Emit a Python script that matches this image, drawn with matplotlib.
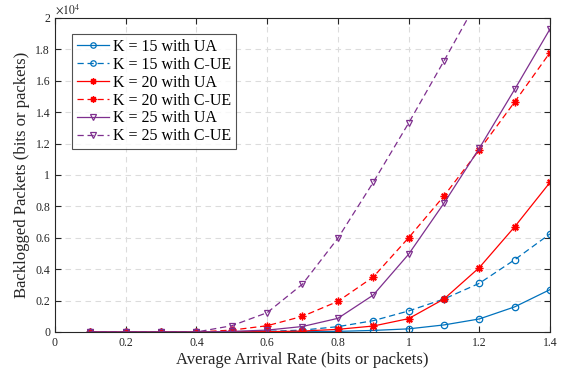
import matplotlib
matplotlib.use("Agg")
import matplotlib.pyplot as plt
import numpy as np
from matplotlib.ticker import FuncFormatter

plt.rcParams['font.family'] = ['Liberation Serif', 'DejaVu Serif']
plt.rcParams['mathtext.fontset'] = 'stix'

rate = [0.1, 0.2, 0.3, 0.4, 0.5, 0.6, 0.7, 0.8, 0.9, 1.0, 1.1, 1.2, 1.3, 1.4]
k15_ua  = [0, 0, 0, 0, 0, 0.001, 0.002, 0.004, 0.01, 0.02, 0.045, 0.083, 0.16, 0.27]
k15_cue = [0, 0, 0, 0, 0.001, 0.004, 0.012, 0.034, 0.072, 0.134, 0.21, 0.31, 0.46, 0.625]
k20_ua  = [0, 0, 0, 0, 0.001, 0.002, 0.006, 0.017, 0.038, 0.085, 0.21, 0.41, 0.67, 0.953]
k20_cue = [0, 0, 0, 0, 0.012, 0.04, 0.10, 0.195, 0.35, 0.60, 0.866, 1.16, 1.465, 1.78]
k25_ua  = [0, 0, 0, 0, 0.004, 0.012, 0.035, 0.087, 0.235, 0.495, 0.82, 1.17, 1.545, 1.93]
k25_cue = [0, 0, 0, 0, 0.04, 0.123, 0.305, 0.597, 0.953, 1.33, 1.726, 2.13, 2.6, 3.1]
labels = ["K = 15 with UA", "K = 15 with C-UE", "K = 20 with UA",
          "K = 20 with C-UE", "K = 25 with UA", "K = 25 with C-UE"]

scale = 1e4
blue = '#0072BD'
red = '#FF0000'
purple = '#7E2F8E'
asterisk = (8, 2, 0)

fig = plt.figure(figsize=(5.67, 3.76), dpi=100)
ax = fig.add_axes([55/567, 44/376, 495/567, 314/376])

series = [(k15_ua, blue, '-', 'o', 'none', 4.6),
          (k15_cue, blue, '--', 'o', 'none', 4.6),
          (k20_ua, red, '-', asterisk, red, 5.5),
          (k20_cue, red, '--', asterisk, red, 5.5),
          (k25_ua, purple, '-', 'v', 'none', 4.8),
          (k25_cue, purple, '--', 'v', 'none', 4.8)]
for (vals, c, ls, m, mfc, ms), lab in zip(series, labels):
    ax.plot(rate, np.array(vals) * scale, color=c, linestyle=ls, marker=m,
            markerfacecolor=mfc, markeredgecolor=c, markersize=ms, linewidth=0.9,
            markeredgewidth=1.0 if m == asterisk else 0.9, label=lab,
            dashes=(5, 3) if ls == '--' else (None, None))

ax.set_xlim(0, 1.4)
ax.set_ylim(0, 2e4)
ax.set_xticks(np.arange(0, 1.41, 0.2))
ax.set_yticks(np.arange(0, 2.01e4, 0.2e4))
ax.xaxis.set_major_formatter(FuncFormatter(lambda v, p: ('%g' % round(v, 2))))
ax.yaxis.set_major_formatter(FuncFormatter(lambda v, p: ('%g' % round(v / scale, 2))))
ax.tick_params(direction='in', top=True, right=True, labelsize=8.5, length=4,
               colors='#262626', width=0.8)
ax.grid(True, linestyle=(0, (5, 4)), color='#dcdcdc', linewidth=0.8)
for s in ax.spines.values():
    s.set_color('#262626')
    s.set_linewidth(0.8)

ax.set_xlabel('Average Arrival Rate (bits or packets)', fontsize=12, color='#262626', labelpad=2)
ax.set_ylabel('Backlogged Packets (bits or packets)', fontsize=12, color='#262626', labelpad=4)
ax.text(0, 1.005, r'$\times 10^4$', transform=ax.transAxes, fontsize=8.5,
        ha='left', va='bottom', color='#262626')

leg = ax.legend(loc='upper left', bbox_to_anchor=(0.034, 0.949), borderaxespad=0,
                fontsize=11.5, frameon=True, fancybox=False, edgecolor='#262626',
                handlelength=2.0, handletextpad=0.3, labelspacing=0.12,
                borderpad=0.3, markerscale=0.85)
leg.get_frame().set_linewidth(0.8)

fig.savefig('out.png', dpi=100)
